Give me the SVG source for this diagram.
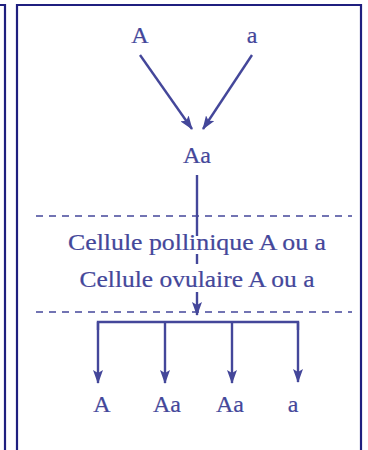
<svg xmlns="http://www.w3.org/2000/svg" width="368" height="450" viewBox="0 0 368 450">
<style>
.frame{fill:none;stroke:#1f1f7f;stroke-width:2.2}
.t{font-family:'Liberation Serif','Times New Roman','DejaVu Serif',serif;fill:#44479a;text-anchor:middle;stroke:#44479a;stroke-width:0.2}
.ln{stroke:#44479a;stroke-width:2.4;fill:none}
.dash{stroke:#44479a;stroke-width:1.5;stroke-dasharray:7,6;fill:none}
</style>
<defs>
<marker id="av" markerWidth="14" markerHeight="10" refX="13" refY="5" orient="auto" markerUnits="userSpaceOnUse" viewBox="0 0 14 10">
<path d="M0,0 L14,5 L0,10 L3,5 Z" fill="#44479a"/>
</marker>
</defs>
<g id="frames">
<path class="frame" d="M0,5 H5 V452"/>
<path class="frame" d="M17,452 V5 H361 V452"/>
</g>
<g id="connectors">
<line class="ln" x1="140" y1="55" x2="192" y2="129" marker-end="url(#av)"/>
<line class="ln" x1="252" y1="55" x2="203" y2="129" marker-end="url(#av)"/>
<line class="ln" x1="197" y1="175" x2="197" y2="236"/>
<line class="ln" x1="197" y1="254" x2="197" y2="264"/>
<line class="ln" x1="197" y1="292" x2="197" y2="315" marker-end="url(#av)"/>
<line class="dash" x1="36" y1="216" x2="352" y2="216"/>
<line class="dash" x1="36" y1="312" x2="352" y2="312"/>
<path class="ln" d="M98,330 V322 H298 V330"/>
<line class="ln" x1="98" y1="322" x2="98" y2="383" marker-end="url(#av)"/>
<line class="ln" x1="165" y1="322" x2="165" y2="383" marker-end="url(#av)"/>
<line class="ln" x1="232" y1="322" x2="232" y2="383" marker-end="url(#av)"/>
<line class="ln" x1="298" y1="322" x2="298" y2="382" marker-end="url(#av)"/>
</g>
<g id="node-A"><text class="t" x="140" y="43" font-size="24">A</text></g>
<g id="node-a"><text class="t" x="252" y="43" font-size="24">a</text></g>
<g id="node-Aa"><text class="t" x="197" y="163" font-size="24">Aa</text></g>
<g id="node-cells">
<text class="t" x="197" y="250" font-size="23" textLength="258" lengthAdjust="spacingAndGlyphs">Cellule pollinique A ou a</text>
<text class="t" x="197" y="287" font-size="23" textLength="235" lengthAdjust="spacingAndGlyphs">Cellule ovulaire A ou a</text>
</g>
<g id="node-r1"><text class="t" x="102" y="412" font-size="24">A</text></g>
<g id="node-r2"><text class="t" x="167" y="412" font-size="24">Aa</text></g>
<g id="node-r3"><text class="t" x="230" y="412" font-size="24">Aa</text></g>
<g id="node-r4"><text class="t" x="293" y="412" font-size="24">a</text></g>
</svg>
